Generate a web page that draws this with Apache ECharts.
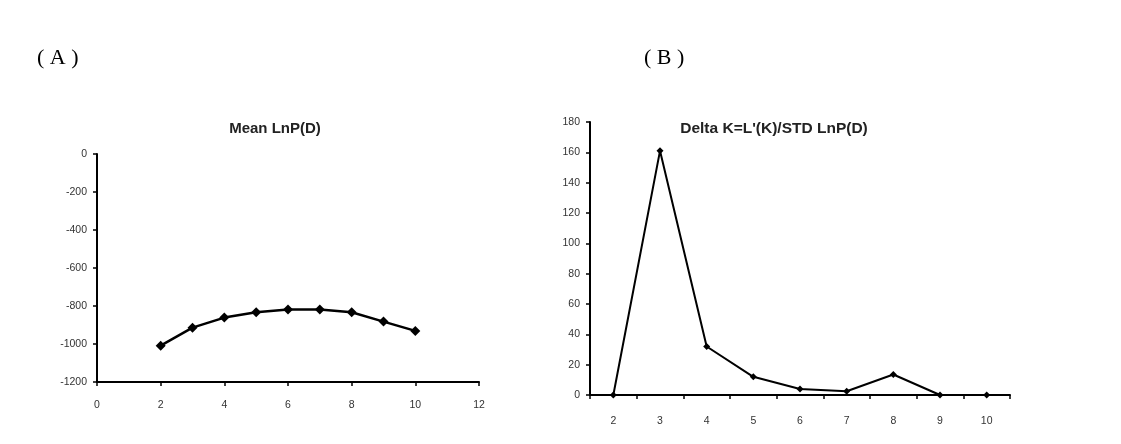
<!DOCTYPE html>
<html><head><meta charset="utf-8">
<script src="https://cdn.jsdelivr.net/npm/echarts@6/dist/echarts.min.js"></script>
<style>html,body{margin:0;padding:0;background:#fff}#c{width:1121px;height:444px}</style>
</head><body><div id="c"></div>
<script>
var kA = [2,3,4,5,6,7,8,9,10];
var meanLnP = [-1009,-914,-861,-833,-819,-819,-833,-882,-931];
var kB = ['2','3','4','5','6','7','8','9','10'];
var deltaK = [0,161,32,12,4,2.5,13.5,0,0];

var chart = echarts.init(document.getElementById('c'));
var axisLine = {show:true, onZero:false, lineStyle:{color:'#000', width:2}};
var tick = {show:true, length:4, lineStyle:{color:'#000', width:1.5}};
var lbl = {color:'#333', fontSize:10.5, fontFamily:'Liberation Sans', formatter:function(v){return String(v);}};
chart.setOption({
  animation:false,
  graphic:[
    {type:'text', left:37, top:47, style:{text:'( A )', font:'22px "Liberation Serif"', fill:'#000'}},
    {type:'text', left:644, top:47, style:{text:'( B )', font:'22px "Liberation Serif"', fill:'#000'}}
  ],
  title:[
    {text:'Mean LnP(D)', left:270, top:116, textAlign:'center', textStyle:{fontSize:15, fontWeight:'bold', fontFamily:'Liberation Sans', color:'#222'}},
    {text:"Delta K=L'(K)/STD LnP(D)", left:769, top:116, textAlign:'center', textStyle:{fontSize:15.5, fontWeight:'bold', fontFamily:'Liberation Sans', color:'#222'}}
  ],
  grid:[
    {left:97, top:154, width:382, height:228},
    {left:590, top:122, width:420, height:273}
  ],
  xAxis:[
    {type:'value', gridIndex:0, min:0, max:12, interval:2, axisLine:axisLine, axisTick:tick, splitLine:{show:false}, axisLabel:Object.assign({}, lbl, {margin:18})},
    {type:'category', gridIndex:1, data:kB, boundaryGap:true, axisLine:axisLine, axisTick:tick, splitLine:{show:false}, axisLabel:Object.assign({}, lbl, {margin:21})}
  ],
  yAxis:[
    {type:'value', gridIndex:0, min:-1200, max:0, interval:200, axisLine:axisLine, axisTick:tick, splitLine:{show:false}, axisLabel:Object.assign({}, lbl, {margin:10})},
    {type:'value', gridIndex:1, min:0, max:180, interval:20, axisLine:axisLine, axisTick:tick, splitLine:{show:false}, axisLabel:Object.assign({}, lbl, {margin:10})}
  ],
  series:[
    {type:'line', xAxisIndex:0, yAxisIndex:0, data:kA.map(function(k,i){return [k, meanLnP[i]];}),
     symbol:'diamond', symbolSize:10, lineStyle:{color:'#000', width:2.5}, itemStyle:{color:'#000'}},
    {type:'line', xAxisIndex:1, yAxisIndex:1, data:deltaK,
     symbol:'diamond', symbolSize:7, lineStyle:{color:'#000', width:2}, itemStyle:{color:'#000'}}
  ]
});
</script></body></html>
